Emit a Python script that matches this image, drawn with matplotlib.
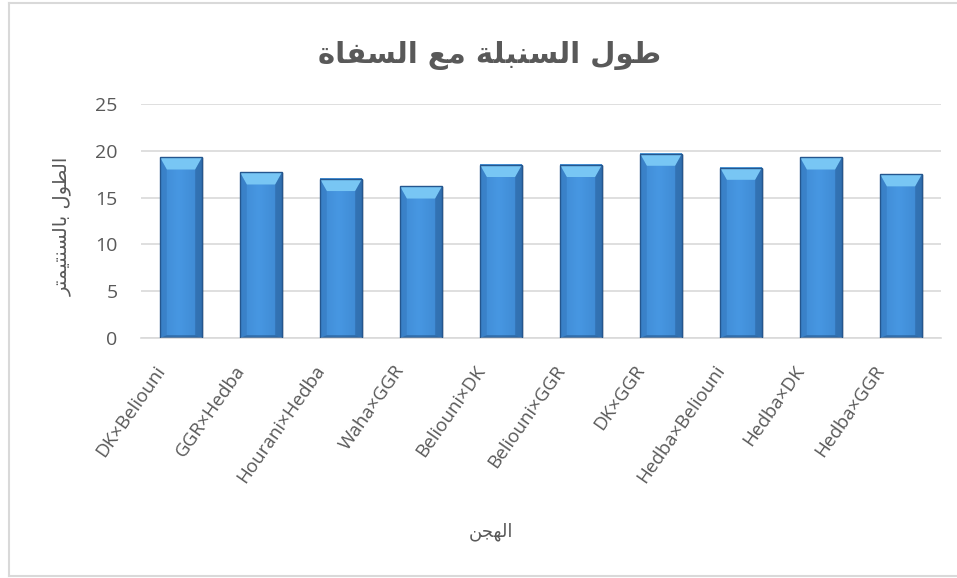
import matplotlib
matplotlib.use("Agg")
import matplotlib.pyplot as plt
import matplotlib.transforms as mtransforms
import numpy as np
from matplotlib.patches import Polygon, Rectangle
from matplotlib.lines import Line2D

# hybrids and spike length (cm)
hybrids = ["DK×Beliouni", "GGR×Hedba", "Hourani×Hedba", "Waha×GGR", "Beliouni×DK",
           "Beliouni×GGR", "DK×GGR", "Hedba×Beliouni", "Hedba×DK", "Hedba×GGR"]
spike_len = [19.3, 17.7, 17.0, 16.2, 18.5, 18.5, 19.7, 18.2, 19.3, 17.5]
y_ticks = [0, 5, 10, 15, 20, 25]

title_txt = "طول السنبلة مع السفاة"
ylabel_txt = "الطول بالسنتيمتر"
xlabel_txt = "الهجن"

# --- minimal arabic shaping (matplotlib has no bidi / contextual forms) ---
# letter: (isolated, final, initial, medial); None for right-joining letters
FORMS = {
    "ا": (0xFE8D, 0xFE8E, None, None),
    "ب": (0xFE8F, 0xFE90, 0xFE91, 0xFE92),
    "ة": (0xFE93, 0xFE94, None, None),
    "ت": (0xFE95, 0xFE96, 0xFE97, 0xFE98),
    "ج": (0xFE9D, 0xFE9E, 0xFE9F, 0xFEA0),
    "ر": (0xFEAD, 0xFEAE, None, None),
    "س": (0xFEB1, 0xFEB2, 0xFEB3, 0xFEB4),
    "ط": (0xFEC1, 0xFEC2, 0xFEC3, 0xFEC4),
    "ع": (0xFEC9, 0xFECA, 0xFECB, 0xFECC),
    "ف": (0xFED1, 0xFED2, 0xFED3, 0xFED4),
    "ل": (0xFEDD, 0xFEDE, 0xFEDF, 0xFEE0),
    "م": (0xFEE1, 0xFEE2, 0xFEE3, 0xFEE4),
    "ن": (0xFEE5, 0xFEE6, 0xFEE7, 0xFEE8),
    "ه": (0xFEE9, 0xFEEA, 0xFEEB, 0xFEEC),
    "و": (0xFEED, 0xFEEE, None, None),
    "ي": (0xFEF1, 0xFEF2, 0xFEF3, 0xFEF4),
}


def dual(c):
    return c in FORMS and FORMS[c][2] is not None


def shape(s):
    out = []
    for i, c in enumerate(s):
        if c not in FORMS:
            out.append(c)
            continue
        prev_c = s[i - 1] if i > 0 else ""
        next_c = s[i + 1] if i + 1 < len(s) else ""
        jp = dual(prev_c)
        jn = dual(c) and next_c in FORMS
        iso, fin, ini, med = FORMS[c]
        if jp and jn:
            cp = med
        elif jp:
            cp = fin
        elif jn:
            cp = ini
        else:
            cp = iso
        out.append(chr(cp))
    return "".join(out)[::-1]


TXT = "#595959"
fig = plt.figure(figsize=(9.57, 5.78), dpi=100)
W, H = 957, 578

# outer chart frame (left, top, bottom; right edge runs off the canvas)
fx0, fy0, fy1 = 8.5 / W, 1 - 575.5 / H, 1 - 2.5 / H
for xs, ys in [([fx0, fx0], [fy0, fy1]), ([fx0, 1], [fy1, fy1]), ([fx0, 1], [fy0, fy0])]:
    fig.add_artist(Line2D(xs, ys, transform=fig.transFigure, color="#d9d9d9", linewidth=1.5))

ax = fig.add_axes([141 / W, 1 - 338 / H, 800 / W, (338 - 104) / H])
x = np.arange(len(hybrids))
bw = 0.525

ax.set_xlim(-0.5, len(hybrids) - 0.5)
ax.set_ylim(0, 25)
ax.set_yticks(y_ticks)
ax.yaxis.grid(True, color="#d9d9d9", linewidth=1.2)
ax.set_axisbelow(True)
for s in ["top", "right", "left"]:
    ax.spines[s].set_visible(False)
ax.spines["bottom"].set_color("#d9d9d9")
ax.spines["bottom"].set_linewidth(1.2)
ax.tick_params(axis="both", length=0, colors=TXT, labelsize=14)
ax.tick_params(axis="y", pad=17)
for lab in ax.get_yticklabels():
    lab.set_fontfamily("Open Sans")

ax.set_xticks(x)
ax.set_xticklabels(hybrids, rotation=55, ha="right", va="center", rotation_mode="anchor",
                   fontsize=13.5, color=TXT, fontfamily="Open Sans")
ax.tick_params(axis="x", pad=21)
shift = mtransforms.ScaledTranslation(-20 / 100, 0, fig.dpi_scale_trans)
for lab in ax.get_xticklabels():
    lab.set_transform(lab.get_transform() + shift)

# bars with a soft horizontal gradient and a bevelled top
grad = np.linspace(0, 1, 64)
prof = 1 - 0.3 * np.abs(grad - 0.45) * 2
cmap = matplotlib.colors.LinearSegmentedColormap.from_list("b", ["#2b68aa", "#4797e2"])
img = cmap(prof)[None, :, :]
bev = 1.3  # bevel height in data units
for xi, v in zip(x, spike_len):
    l, r = xi - bw / 2, xi + bw / 2
    # shadow
    ax.add_patch(Rectangle((l + 0.03, 0), bw, v - 0.1, facecolor="#000000", alpha=0.12,
                           edgecolor="none", zorder=1.5))
    ax.imshow(img, extent=[l, r, 0, v], aspect="auto", zorder=2, interpolation="bicubic")
    dx = 0.085
    ax.add_patch(Polygon([(l, v), (r, v), (r - dx, v - bev), (l + dx, v - bev)],
                         closed=True, facecolor="#78c6f4", edgecolor="none", zorder=3))
    ax.add_patch(Polygon([(l, v), (l + dx, v - bev), (l + dx, 0.3), (l, 0)],
                         closed=True, facecolor="#2e6db0", edgecolor="none", zorder=3, alpha=0.35))
    ax.add_patch(Polygon([(r, v), (r - dx, v - bev), (r - dx, 0.3), (r, 0)],
                         closed=True, facecolor="#23558c", edgecolor="none", zorder=3, alpha=0.45))
    ax.add_patch(Polygon([(l, 0), (r, 0), (r - dx, 0.3), (l + dx, 0.3)],
                         closed=True, facecolor="#1d4a7c", edgecolor="none", zorder=3, alpha=0.5))
    ax.add_patch(Rectangle((l, 0), bw, v, fill=False, edgecolor="#24568e", linewidth=1.0, zorder=4))

fig.text(490 / W, 1 - 55 / H, shape(title_txt), ha="center", va="center",
         fontsize=21, fontweight="bold", color=TXT, fontfamily="DejaVu Sans")
fig.text(62 / W, 1 - 226 / H, shape(ylabel_txt), ha="center", va="center", rotation=90,
         fontsize=14, color=TXT, fontfamily="DejaVu Sans")
fig.text(491 / W, 1 - 532 / H, shape(xlabel_txt), ha="center", va="center",
         fontsize=13, color=TXT, fontfamily="DejaVu Sans")

fig.savefig("out.png", dpi=100)
